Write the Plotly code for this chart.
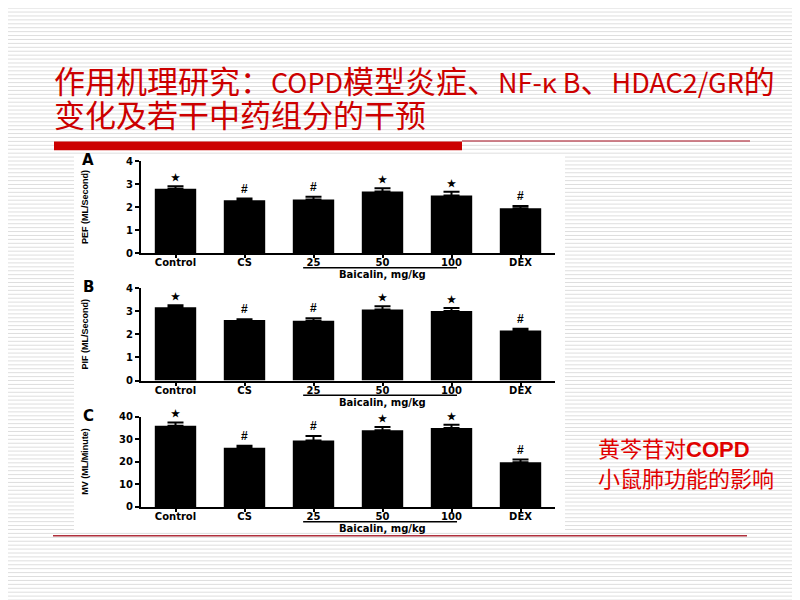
import plotly.graph_objects as go

# groups on the x axis
categories = ["Control", "CS", "25", "50", "100", "DEX"]

# panel A: PEF (ML/Second)
pef_mean = [2.80, 2.30, 2.33, 2.68, 2.50, 1.95]
pef_err = [0.10, 0.07, 0.12, 0.14, 0.17, 0.10]

# panel B: PIF (ML/Second)
pif_mean = [3.18, 2.63, 2.60, 3.08, 3.02, 2.17]
pif_err = [0.09, 0.03, 0.10, 0.14, 0.13, 0.08]

# panel C: MV (ML/Minute)
mv_mean = [36.0, 26.3, 29.5, 34.0, 35.0, 19.8]
mv_err = [1.5, 0.8, 2.0, 1.5, 1.5, 1.2]

pef_sig = ["★", "#", "#", "★", "★", "#"]
pif_sig = ["★", "#", "#", "★", "★", "#"]
mv_sig = ["★", "#", "#", "★", "★", "#"]

W, H = 800, 600
OFF = 8  # the page body margin shifts the figure by this much
RED = "#cc0000"
FONT = "Liberation Sans"
WIDE = "DejaVu Sans"
CJK = "Noto Sans CJK SC"


def px(x):
    return (x - OFF) / W


def py(y):
    return 1 - (y - OFF) / H


def latin(s):
    # the slide's latin glyphs are half width, so set them a bit smaller
    return f'<span style="font-size:27px">{s}</span>'


panels = [
    # letter, y title, means, errors, marks, y range, dtick, top px, bottom px
    ("A", "PEF (ML/Second)", pef_mean, pef_err, pef_sig, [0, 4], 1, 158, 252),
    ("B", "PIF (ML/Second)", pif_mean, pif_err, pif_sig, [0, 4], 1, 288, 382),
    ("C", "MV (ML/Minute)", mv_mean, mv_err, mv_sig, [0, 40], 10, 419, 511),
]

fig = go.Figure()
shapes = []
annotations = []

# faint horizontal stripes of the slide background (paper fractions)
stripes = " ".join(f"M0,{py(y):.5f} L1,{py(y):.5f}" for y in range(2, H + OFF, 4))
shapes.append(dict(type="path", xref="paper", yref="paper", path=stripes,
                   line=dict(color="#dedede", width=1), layer="below"))
# white area behind the figure image
shapes.append(dict(type="rect", xref="paper", yref="paper",
                   x0=px(74), x1=px(565), y0=py(535), y1=py(152),
                   fillcolor="white", line=dict(width=0), layer="below"))

layout = dict(
    width=W, height=H,
    margin=dict(l=0, r=0, t=0, b=0),
    paper_bgcolor="white",
    plot_bgcolor="rgba(0,0,0,0)",
    showlegend=False,
    bargap=0.4,
)

for i, (letter, ytitle, mean, err, sig, yr, dt, top, bot) in enumerate(panels):
    n = "" if i == 0 else str(i + 1)
    xa, ya = "x" + n, "y" + n
    fig.add_trace(go.Bar(
        x=categories, y=mean, xaxis=xa, yaxis=ya,
        marker=dict(color="black", line=dict(color="black", width=0)),
        error_y=dict(type="data", array=err, arrayminus=[0] * len(err),
                     symmetric=False, color="black", thickness=2, width=8),
    ))
    layout["xaxis" + n] = dict(
        domain=[px(141), px(555)], anchor=ya, type="category",
        categoryorder="array", categoryarray=categories,
        range=[-0.5, len(categories) - 0.5],
        showline=True, linecolor="black", linewidth=2,
        ticks="outside", ticklen=3, tickwidth=2, tickcolor="black",
        ticklabelstandoff=-4,
        tickfont=dict(family=WIDE, size=10, color="black", weight="bold"),
        showgrid=False, zeroline=False, fixedrange=True,
    )
    layout["yaxis" + n] = dict(
        domain=[py(bot), py(top)], anchor=xa, range=yr, dtick=dt,
        showline=True, linecolor="black", linewidth=2,
        ticks="outside", ticklen=4, tickwidth=2, tickcolor="black",
        tickfont=dict(family=WIDE, size=10, color="black", weight="bold"),
        showgrid=False, zeroline=False, fixedrange=True,
    )
    for k, (m, e, s) in enumerate(zip(mean, err, sig)):
        annotations.append(dict(
            x=k, y=m + e, xref=xa, yref=ya, text=s, showarrow=False,
            yanchor="bottom", yshift=1,
            font=dict(family=FONT, size=10 if s == "★" else 12, color="black", weight="bold"),
        ))
    annotations.append(dict(
        x=px(88), y=py(top - 1), xref="paper", yref="paper", text=letter,
        showarrow=False, xanchor="center", yanchor="middle",
        font=dict(family=WIDE, size=15, color="black", weight="bold"),
    ))
    annotations.append(dict(
        x=px(85), y=py((top + bot) / 2), xref="paper", yref="paper", text=ytitle,
        textangle=-90, showarrow=False, xanchor="center", yanchor="middle",
        font=dict(family=FONT, size=9, color="black", weight="bold"),
    ))
    # bracket line under the baicalin doses
    shapes.append(dict(type="line", xref=xa, yref="paper",
                       x0=1.85, x1=4.08, y0=py(bot + 15), y1=py(bot + 15),
                       line=dict(color="black", width=1.5)))
    annotations.append(dict(
        x=3, y=py(bot + 22), xref=xa, yref="paper", text="Baicalin, mg/kg",
        showarrow=False, xanchor="center", yanchor="middle",
        font=dict(family=WIDE, size=10, color="black", weight="bold"),
    ))

# slide title
annotations.append(dict(
    x=px(52), y=py(75), xref="paper", yref="paper",
    text=("作用机理研究：" + latin("COPD") + "模型炎症、" + latin("NF-κ B")
          + "、" + latin("HDAC2/GR") + "的"),
    showarrow=False, xanchor="left", yanchor="middle",
    font=dict(family=CJK, size=31, color=RED),
))
annotations.append(dict(
    x=px(52), y=py(110), xref="paper", yref="paper",
    text="变化及若干中药组分的干预",
    showarrow=False, xanchor="left", yanchor="middle",
    font=dict(family=CJK, size=31, color=RED),
))
# title underline: thick bar then thin line
shapes.append(dict(type="rect", xref="paper", yref="paper",
                   x0=px(54), x1=px(462), y0=py(147), y1=py(138),
                   fillcolor=RED, line=dict(width=0)))
shapes.append(dict(type="line", xref="paper", yref="paper",
                   x0=px(462), x1=px(750), y0=py(137.5), y1=py(137.5),
                   line=dict(color="#c05a66", width=1.5)))
# bottom rule
shapes.append(dict(type="line", xref="paper", yref="paper",
                   x0=px(53), x1=px(747), y0=py(540.5), y1=py(540.5),
                   line=dict(color="#b0303c", width=1.5)))

# side caption
annotations.append(dict(
    x=px(596), y=py(452), xref="paper", yref="paper",
    text="黄芩苷对<b>COPD</b>",
    showarrow=False, xanchor="left", yanchor="middle",
    font=dict(family="Liberation Sans, " + CJK, size=22, color="#e00000"),
))
annotations.append(dict(
    x=px(596), y=py(480), xref="paper", yref="paper",
    text="小鼠肺功能的影响",
    showarrow=False, xanchor="left", yanchor="middle",
    font=dict(family=CJK, size=22, color="#e00000"),
))

layout["shapes"] = shapes
layout["annotations"] = annotations
fig.update_layout(**layout)
fig.write_html("out.html")
